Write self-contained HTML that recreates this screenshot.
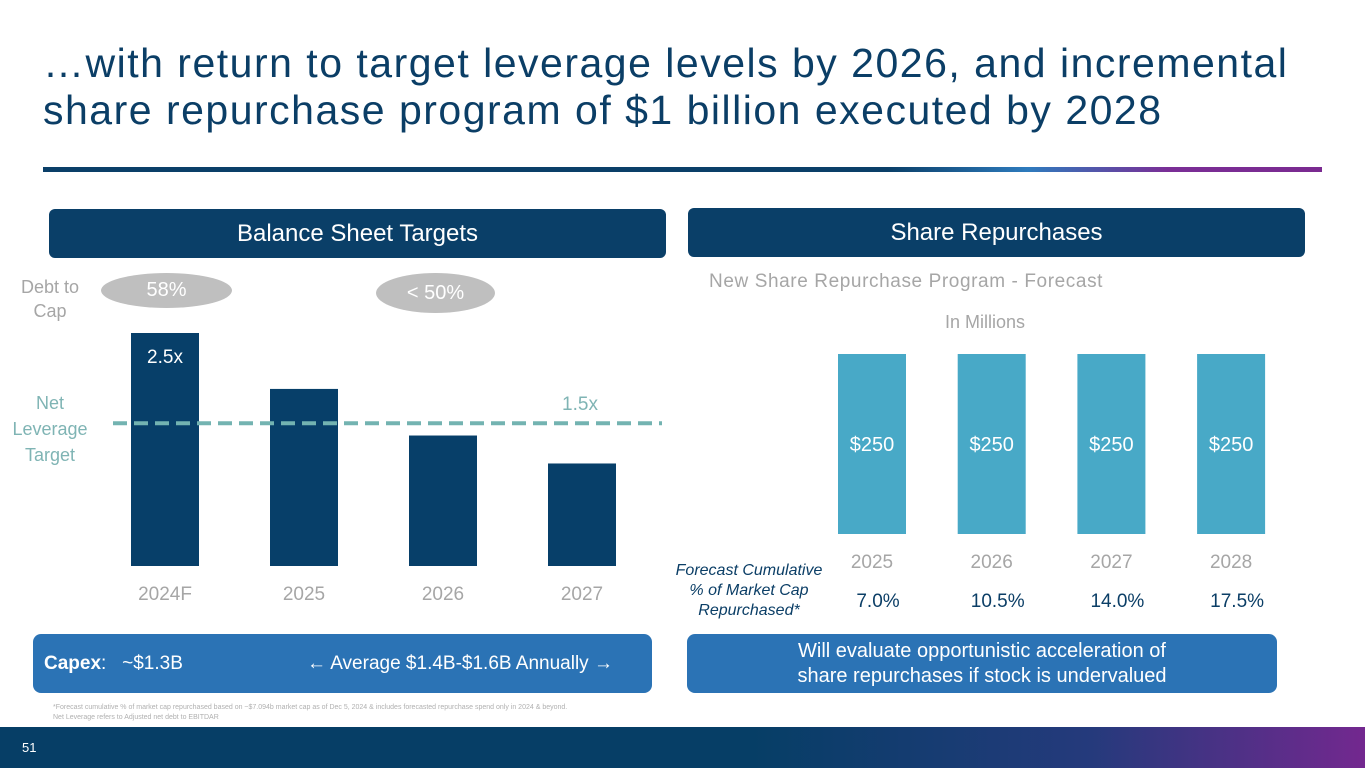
<!DOCTYPE html>
<html><head><meta charset="utf-8">
<style>
*{margin:0;padding:0;box-sizing:border-box}
body{width:1365px;height:768px;position:relative;background:#fff;font-family:"Liberation Sans",sans-serif;overflow:hidden}
.abs{position:absolute}
.title{left:43px;top:40px;font-size:41px;line-height:47px;color:#0b3e66;letter-spacing:1.5px;white-space:nowrap}
.hdr{background:#0a3f68;color:#fff;font-size:24px;text-align:center;border-radius:6px;line-height:49px}
.grey{color:#a6a6a6}
.pill{background:#bfbfbf;color:#fff;border-radius:50%;text-align:center;font-size:20px}
.box{background:#2b73b5;color:#fff;border-radius:8px}
</style></head><body>
<div class="abs title">…with return to target leverage levels by 2026, and incremental<br>share repurchase program of $1 billion executed by 2028</div>
<div class="abs" style="left:43px;top:167px;width:1279px;height:5px;background:linear-gradient(90deg,#0a3f68 0%,#0a3f68 66%,#2e7bbd 77%,#7a2e96 88%,#7a2a90 100%)"></div>

<div class="abs hdr" style="left:49px;top:209px;width:617px;height:49px">Balance Sheet Targets</div>
<div class="abs hdr" style="left:688px;top:208px;width:617px;height:49px">Share Repurchases</div>

<div class="abs grey" style="left:10px;top:275px;width:80px;text-align:center;font-size:18px;line-height:24px">Debt to<br>Cap</div>
<div class="abs pill" style="left:101px;top:273px;width:131px;height:35px;line-height:35px">58%</div>
<div class="abs pill" style="left:376px;top:273px;width:119px;height:40px;line-height:40px">&lt; 50%</div>
<div class="abs" style="left:10px;top:390px;width:80px;text-align:center;font-size:18px;line-height:26px;color:#7fb4b4">Net<br>Leverage<br>Target</div>

<svg class="abs" style="left:0;top:0" width="1365" height="768">
<g id="left"></g><g id="right"></g>
</svg>

<div class="abs grey" style="left:709px;top:271px;font-size:19px;letter-spacing:0.6px">New Share Repurchase Program - Forecast</div>
<div class="abs grey" style="left:945px;top:312px;font-size:18px">In Millions</div>
<div class="abs" style="left:660px;top:561px;width:178px;text-align:center;font-size:16px;font-style:italic;line-height:20px;color:#0b3e66">Forecast Cumulative<br>% of Market Cap<br>Repurchased*</div>

<div class="abs box" style="left:33px;top:634px;width:619px;height:59px;font-size:19px;line-height:59px"><span style="position:absolute;left:11px"><b>Capex</b>:&nbsp;&nbsp; ~$1.3B</span><span style="position:absolute;left:274px"><b>&#8592;</b> Average $1.4B-$1.6B Annually <b>&#8594;</b></span></div>
<div class="abs box" style="left:687px;top:634px;width:590px;height:59px;font-size:20px;line-height:25px;text-align:center;padding-top:5px">Will evaluate opportunistic acceleration of<br>share repurchases if stock is undervalued</div>

<div class="abs" style="left:53px;top:703px;font-size:7px;line-height:10px;color:#b0b0b0;white-space:nowrap">*Forecast cumulative % of market cap repurchased based on ~$7.094b market cap as of Dec 5, 2024 &amp; includes forecasted repurchase spend only in 2024 &amp; beyond.<br>Net Leverage refers to Adjusted net debt to EBITDAR</div>
<div class="abs" style="left:0;top:727px;width:1365px;height:41px;background:linear-gradient(90deg,#063e66 0%,#063e66 55%,#253a7c 80%,#73288f 100%)"></div>
<div class="abs" style="left:22px;top:740px;font-size:13px;color:#fff">51</div>

<script>
const leftCats=["2024F","2025","2026","2027"];
const leftVals=[2.5,1.9,1.4,1.1];
const leftTarget=1.5;
const rightCats=["2025","2026","2027","2028"];
const rightVals=[250,250,250,250];
const rightPct=["7.0%","10.5%","14.0%","17.5%"];

const NS="http://www.w3.org/2000/svg";
function mk(tag,attrs,parent,txt){const e=document.createElementNS(NS,tag);for(const k in attrs)e.setAttribute(k,attrs[k]);if(txt!==undefined)e.textContent=txt;parent.appendChild(e);return e;}
const lBase=566,lScale=93.2;
const lx=i=>131+i*139, ly=v=>lBase-v*lScale;
const L=document.getElementById('left');
leftVals.forEach((v,i)=>{
 const r=mk('rect',{x:lx(i),y:ly(v),width:68,height:lBase-ly(v),fill:'#073f69'},L);
 
 
 const t=mk('text',{x:lx(i)+34,y:600,'text-anchor':'middle','font-size':19,fill:'#a6a6a6'},L,leftCats[i]);
 
 
});
const v0=mk('text',{x:lx(0)+34,y:ly(leftVals[0])+30,'text-anchor':'middle','font-size':19,fill:'#fff'},L,leftVals[0]+'x');


const tl=mk('line',{x1:113,x2:662,y1:ly(leftTarget)-3,y2:ly(leftTarget)-3,stroke:'#73b3b1','stroke-width':4,'stroke-dasharray':'14 7'},L);


const tv=mk('text',{x:580,y:ly(leftTarget)-16,'text-anchor':'middle','font-size':19,fill:'#7fb4b4'},L,leftTarget+'x');


const rBase=534,rScale=180/250;
const rx=i=>838+i*119.7, ry=v=>rBase-v*rScale;
const R=document.getElementById('right');
rightVals.forEach((v,i)=>{
 const r=mk('rect',{x:rx(i),y:ry(v),width:68,height:rBase-ry(v),fill:'#48a9c7'},R);
 
 
 const vt=mk('text',{x:rx(i)+34,y:451,'text-anchor':'middle','font-size':20,fill:'#fff'},R,'$'+v);
 
 
 const ct=mk('text',{x:rx(i)+34,y:568,'text-anchor':'middle','font-size':19,fill:'#a6a6a6'},R,rightCats[i]);
 
 
 const pt=mk('text',{x:rx(i)+40,y:607,'text-anchor':'middle','font-size':19,fill:'#0b3e66'},R,rightPct[i]);
 
 
});
</script>
</body></html>
